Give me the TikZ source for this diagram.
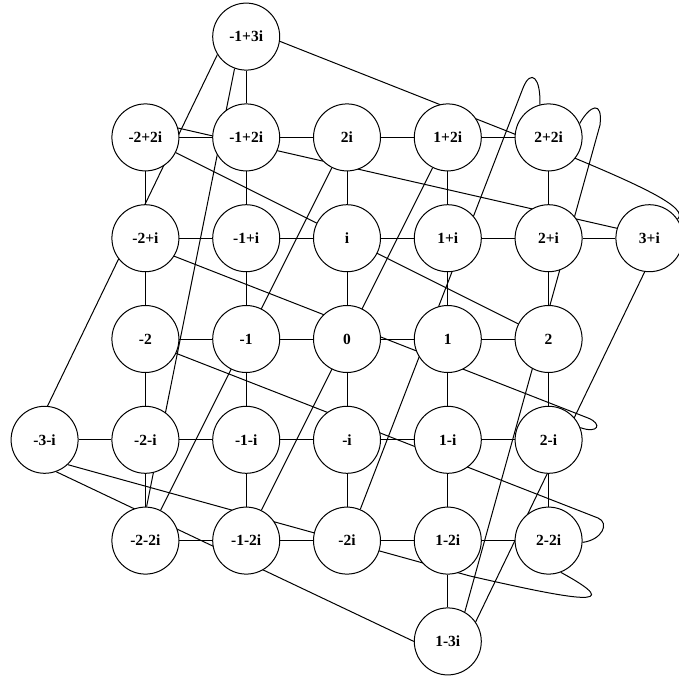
\documentclass[tikz,border=0pt]{standalone}
\usepackage{fontspec}
\setmainfont{Liberation Serif}
\pgfdeclarelayer{bg}
\pgfsetlayers{bg,main}
\begin{document}
\begin{tikzpicture}[x=1pt,y=-1pt,
  gn/.style={circle,draw=black,line width=1pt,fill=white,minimum size=67pt,inner sep=0pt,
    font=\bfseries\fontsize{15.5}{18}\selectfont},
  lnk/.style={line width=1pt,draw=black}]
\useasboundingbox (0,0) rectangle (679,681);
\foreach \a/\b/\t in {-1/3/{-1+3i},
  -2/2/{-2+2i}, -1/2/{-1+2i}, 0/2/{2i}, 1/2/{1+2i}, 2/2/{2+2i},
  -2/1/{-2+i}, -1/1/{-1+i}, 0/1/{i}, 1/1/{1+i}, 2/1/{2+i}, 3/1/{3+i},
  -2/0/{-2}, -1/0/{-1}, 0/0/{0}, 1/0/{1}, 2/0/{2},
  -3/-1/{-3-i}, -2/-1/{-2-i}, -1/-1/{-1-i}, 0/-1/{-i}, 1/-1/{1-i}, 2/-1/{2-i},
  -2/-2/{-2-2i}, -1/-2/{-1-2i}, 0/-2/{-2i}, 1/-2/{1-2i}, 2/-2/{2-2i},
  1/-3/{1-3i}}
  \node[gn] (n\a\b) at ({347+100.8*\a},{339-100.8*\b}) {\t};
\begin{pgfonlayer}{bg}
  % horizontal grid edges
  \foreach \b/\lo/\hi in {2/-2/1, 1/-2/2, 0/-2/1, -1/-3/1, -2/-2/1}{
    \foreach \a in {\lo,...,\hi}{
      \pgfmathtruncatemacro\c{\a+1}
      \draw[lnk] (n\a\b) -- (n\c\b);
    }
  }
  % vertical grid edges
  \foreach \a/\lo/\hi in {-1/-1/3, -2/-1/2, 0/-1/2, 1/-2/2, 2/-1/2}{
    \foreach \b in {\lo,...,\hi}{
      \pgfmathtruncatemacro\c{\b-1}
      \draw[lnk] (n\a\b) -- (n\a\c);
    }
  }
  % wrap-around edges
  \draw[lnk] (n-13.250) -- (n-2-2.88);
  \draw[lnk] (n-13.352) -- (560,152) .. controls (640,185) and (690,208) .. (n31.34);
  \draw[lnk] (n-13.212) -- (n-3-1.85);
  \draw[lnk] (n-22) -- (n20);
  \draw[lnk] (n-22.16) -- (n31.163);
  \draw[lnk] (n02) -- (n-2-2);
  \draw[lnk] (n12) -- (n-1-2);
  \draw[lnk] (n22.24) .. controls (590,105) and (603,100) .. (600,125) -- (n1-3.60);
  \draw[lnk] (n22.105) .. controls (541,78) and (531,68) .. (523,88) -- (n0-2.67);
  \draw[lnk] (n-21.328) -- (588,418) .. controls (603,424) and (598,434) .. (n2-1.21);
  \draw[lnk] (n31.262) -- (n1-3.35);
  \draw[lnk] (n-20.335) -- (598,518) .. controls (610,523) and (602,540) .. (n2-2.357);
  \draw[lnk] (n-3-1.290) -- (n1-3.180);
  \draw[lnk] (n-3-1.313) -- (470,576) .. controls (575,600) and (630,610) .. (n2-2.291);
\end{pgfonlayer}
\end{tikzpicture}
\end{document}
